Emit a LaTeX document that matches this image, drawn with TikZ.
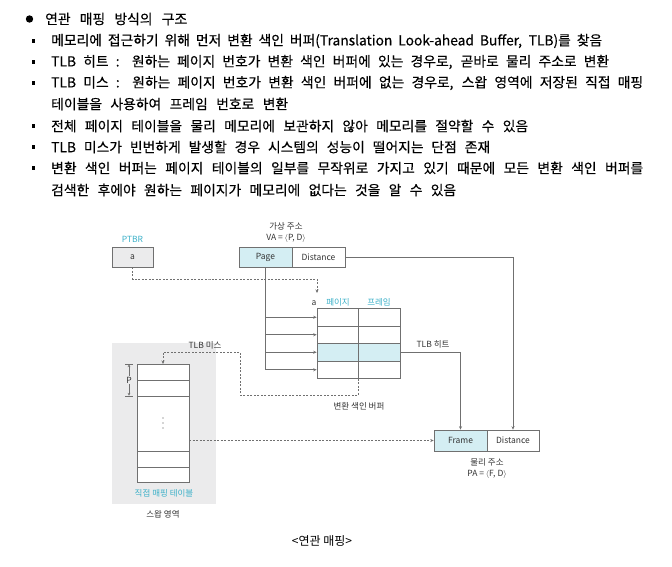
\documentclass[tikz,border=0pt]{standalone}
\usepackage{fontspec}
\setmainfont{Noto Sans CJK KR}
\newfontfamily\bodyfont[WordSpace={1.0,1.0,1.5},FakeBold=0.35]{Noto Sans CJK KR}
\usetikzlibrary{arrows.meta}
\definecolor{cyantext}{HTML}{3BB0C8}
\definecolor{cyanfill}{HTML}{D4EEF3}
\definecolor{grayfill}{HTML}{EBEBEC}
\definecolor{linegray}{HTML}{707070}
\newcommand{\fitline}[2]{\hbox to #1pt{#2}}
\hbadness=10000
\hfuzz=20pt
\begin{document}
\begin{tikzpicture}[x=1pt,y=-1pt,
  bodytext/.style={anchor=west,inner sep=0pt,font=\bodyfont\fontsize{13.8}{15}\selectfont},
  small/.style={inner sep=0pt,font=\fontsize{8.5}{10}\selectfont,text=black!80},
  ctext/.style={small,text=cyantext},
  box/.style={draw=linegray,line width=0.6pt,inner sep=0pt,font=\fontsize{8.5}{10}\selectfont,text=black!80},
  conn/.style={draw=linegray,line width=0.6pt},
  arr/.style={conn,-{Stealth[length=3.5pt,width=3pt]}},
  dashy/.style={conn,dash pattern=on 2pt off 1.5pt}
]
\useasboundingbox (0,0) rectangle (672,566);
% ---- text block
\fill (29.5,19) circle (3.7);
\foreach \yy in {41,62,83,126,147,168} {\fill (31.6,\yy-1.6) rectangle (34.8,\yy+1.6);}
\node[bodytext] (t0) at (45,19) {\fitline{142}{연관 매핑 방식의 구조}};
\node[bodytext] (t1) at (51,41) {\fitline{551}{메모리에 접근하기 위해 먼저 변환 색인 버퍼(Translation Look-ahead Buffer, TLB)를 찾음}};
\node[bodytext] (t2) at (51,62) {\fitline{558}{TLB 히트 : 원하는 페이지 번호가 변환 색인 버퍼에 있는 경우로, 곧바로 물리 주소로 변환}};
\node[bodytext] (t3) at (51,83) {\fitline{592}{TLB 미스 : 원하는 페이지 번호가 변환 색인 버퍼에 없는 경우로, 스왑 영역에 저장된 직접 매핑}};
\node[bodytext] (t3b) at (51,104) {\fitline{237}{테이블을 사용하여 프레임 번호로 변환}};
\node[bodytext] (t4) at (51,126) {\fitline{477}{전체 페이지 테이블을 물리 메모리에 보관하지 않아 메모리를 절약할 수 있음}};
\node[bodytext] (t5) at (51,147) {\fitline{439}{TLB 미스가 빈번하게 발생할 경우 시스템의 성능이 떨어지는 단점 존재}};
\node[bodytext] (t6) at (51,168) {\fitline{592}{변환 색인 버퍼는 페이지 테이블의 일부를 무작위로 가지고 있기 때문에 모든 변환 색인 버퍼를}};
\node[bodytext] (t6b) at (51,190) {\fitline{405}{검색한 후에야 원하는 페이지가 메모리에 없다는 것을 알 수 있음}};
% ---- swap area
\fill[grayfill] (112,343) rectangle (216,504);
% ---- virtual address
\node[small] (valbl) at (286,226) {가상 주소};
\node[small] (vaeq) at (286,238) {VA = $\langle$P, D$\rangle$};
\node[box,fill=cyanfill,minimum width=53,minimum height=20] (page) at (265.5,257) {Page};
\node[box,fill=white,minimum width=53,minimum height=20] (dist) at (318.5,257) {Distance};
% ---- PTBR
\node[ctext] (ptbrlbl) at (132.5,239) {PTBR};
\node[box,fill=grayfill,minimum width=41,minimum height=20] (ptbr) at (132.5,257) {a};
% ---- TLB table
\node[box,minimum width=83,minimum height=17.5] (r1) at (358.5,317.25) {};
\node[box,minimum width=83,minimum height=17.5] (r2) at (358.5,334.75) {};
\node[box,fill=cyanfill,minimum width=83,minimum height=17.5] (r3) at (358.5,352.25) {};
\node[box,minimum width=83,minimum height=17.5] (r4) at (358.5,369.75) {};
\draw[conn] (r1.north) -- (r4.south);
\node[small] (alabel) at (314,303) {a};
\node[ctext] (pg) at (338,302) {페이지};
\node[ctext] (fr) at (379,302) {프레임};
\node[small] (tlbname) at (359,406) {변환 색인 버퍼};
\coordinate (aend) at (317,293);
\draw[dashy,-{Stealth[length=3.5pt,width=3pt]}] (ptbr.south) |- (210,279) -| (aend);
\draw[conn] (page.south) -- (page.south |- r4.west);
\foreach \r in {r1,r2,r3,r4} {\draw[arr] (page.south |- \r.west) -- (\r.west);}
% ---- physical address
\node[box,fill=cyanfill,minimum width=53,minimum height=21] (frame) at (460.5,440.5) {Frame};
\node[box,fill=white,minimum width=52,minimum height=21] (pdist) at (513,440.5) {Distance};
\node[small] (palbl) at (487,462) {물리 주소};
\node[small] (paeq) at (487,474) {PA = $\langle$F, D$\rangle$};
\node[small] (hit) at (433,344) {TLB 히트};
\draw[arr] (r3.east) -| (frame.north);
\draw[arr] (dist.east) -| (pdist.north);
% ---- direct mapping table
\draw[conn,fill=white] (137,364) rectangle (189,482);
\coordinate (dmttop) at (163,364);
\coordinate (dmtright) at (189,440.5);
\foreach \yy in {380,396,451,467} {\draw[conn] (137,\yy) -- (189,\yy);}
\foreach \yy in {418,423,428} {\fill[black!70] (163,\yy) circle (0.6);}
\draw[conn,{Stealth[length=2.5pt,width=2.5pt]}-{Stealth[length=2.5pt,width=2.5pt]}] (129,364.5) -- (129,395.5);
\draw[conn] (125,364) -- (133,364);
\draw[conn] (125,396) -- (133,396);
\node[small,fill=grayfill,inner sep=1pt] (plbl) at (129,380) {P};
\node[ctext] (dmtlbl) at (164,493) {직접 매핑 테이블};
\node[small] (swaplbl) at (163,514) {스왑 영역};
\node[small] (miss) at (205,345) {TLB 미스};
\coordinate (m1) at (358,395);
\coordinate (m2) at (240,352);
\draw[dashy,-{Stealth[length=3.5pt,width=3pt]}] (r4.south) |- (m1) -| (m2) -| (dmttop);
\draw[dashy,-{Stealth[length=3.5pt,width=3pt]}] (dmtright) -- (frame.west);
% ---- caption
\node[inner sep=0pt,font=\fontsize{12}{14}\selectfont] (cap) at (322,541) {<연관 매핑>};
\end{tikzpicture}
\end{document}
